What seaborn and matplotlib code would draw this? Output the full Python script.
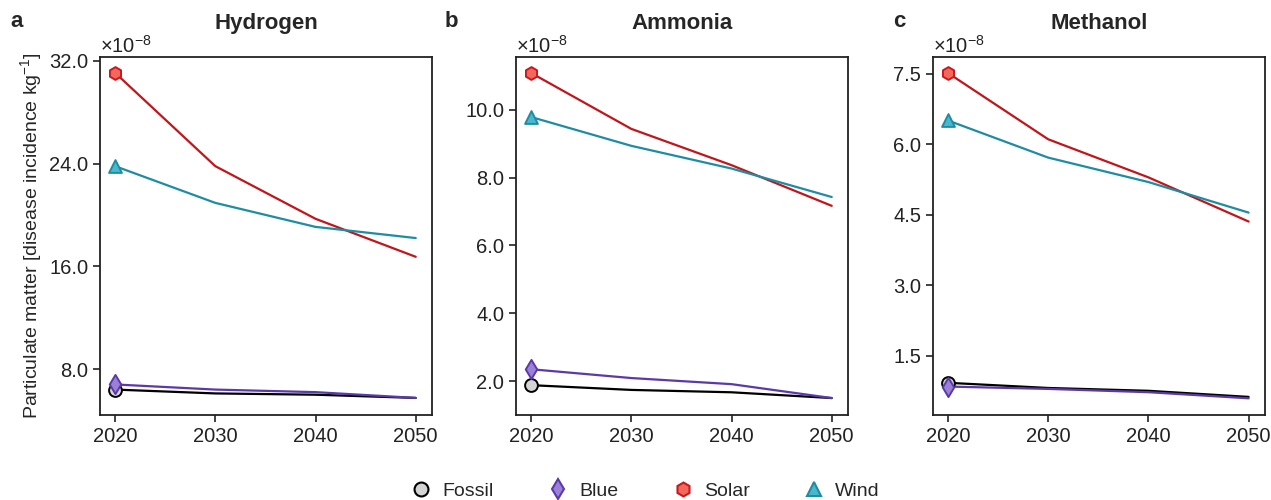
import numpy as np
import pandas as pd
import seaborn as sns
import matplotlib.pyplot as plt
from matplotlib.ticker import ScalarFormatter
from matplotlib.lines import Line2D

# values in units of 1e-8 disease incidence per kg
years = [2020, 2030, 2040, 2050]
fuels = ['Hydrogen', 'Ammonia', 'Methanol']
panel_letters = ['a', 'b', 'c']
routes = ['Fossil', 'Blue', 'Solar', 'Wind']

hydrogen_fossil = [6.4, 6.1, 6.0, 5.75]
hydrogen_blue = [6.8, 6.4, 6.2, 5.75]
hydrogen_solar = [31.07, 23.8, 19.7, 16.74]
hydrogen_wind = [23.8, 20.94, 19.07, 18.2]

ammonia_fossil = [1.88, 1.74, 1.67, 1.5]
ammonia_blue = [2.35, 2.09, 1.91, 1.5]
ammonia_solar = [11.09, 9.44, 8.37, 7.17]
ammonia_wind = [9.79, 8.94, 8.27, 7.43]

methanol_fossil = [0.93, 0.82, 0.76, 0.63]
methanol_blue = [0.85, 0.80, 0.73, 0.60]
methanol_solar = [7.52, 6.11, 5.30, 4.36]
methanol_wind = [6.51, 5.72, 5.20, 4.55]

yticks = {'Hydrogen': [8, 16, 24, 32],
          'Ammonia': [2, 4, 6, 8, 10],
          'Methanol': [1.5, 3.0, 4.5, 6.0, 7.5]}
ylims = {'Hydrogen': (4.42, 32.3),
         'Ammonia': (1.0, 11.56),
         'Methanol': (0.245, 7.86)}

data = {
    'Hydrogen': [hydrogen_fossil, hydrogen_blue, hydrogen_solar, hydrogen_wind],
    'Ammonia': [ammonia_fossil, ammonia_blue, ammonia_solar, ammonia_wind],
    'Methanol': [methanol_fossil, methanol_blue, methanol_solar, methanol_wind],
}

rows = []
for fuel in fuels:
    for route, vals in zip(routes, data[fuel]):
        for yr, v in zip(years, vals):
            rows.append({'fuel': fuel, 'route': route, 'year': yr, 'value': v * 1e-8})
df = pd.DataFrame(rows)

line_col = {'Fossil': '#000000', 'Blue': '#5b3aa8', 'Solar': '#c0161b', 'Wind': '#1e8ca3'}
face_col = {'Fossil': '#d4d4d4', 'Blue': '#9b80d8', 'Solar': '#f4675c', 'Wind': '#4ab8cc'}
edge_col = {'Fossil': '#000000', 'Blue': '#5b3aa8', 'Solar': '#c8191e', 'Wind': '#1e8ca3'}
mk = {'Fossil': 'o', 'Blue': 'd', 'Solar': 'h', 'Wind': '^'}


class OneDecimal(ScalarFormatter):
    def _set_format(self):
        self.format = '%1.1f'


sns.set_theme(style='ticks')
plt.rcParams['font.family'] = ['Liberation Sans', 'DejaVu Sans']
plt.rcParams['mathtext.fontset'] = 'custom'
plt.rcParams['mathtext.rm'] = 'Liberation Sans'
plt.rcParams['mathtext.it'] = 'Liberation Sans:italic'

fig = plt.figure(figsize=(12.71, 5.0), dpi=100)
lefts = [0.0787, 0.406, 0.734]
letter_x = [-0.27, -0.215, -0.12]
axes = [fig.add_axes([l, 0.17, 0.261, 0.716]) for l in lefts]

for ax, fuel, letter, lx in zip(axes, fuels, panel_letters, letter_x):
    sub = df[df.fuel == fuel]
    for route in routes:
        s = sub[sub.route == route]
        sns.lineplot(data=s, x='year', y='value', ax=ax, color=line_col[route],
                     linewidth=1.6, zorder=2)
        first = s[s.year == years[0]]
        sns.scatterplot(data=first, x='year', y='value', ax=ax, marker=mk[route],
                        s=85 if route != 'Blue' else 95, color=face_col[route],
                        edgecolor=edge_col[route], linewidth=1.4, zorder=3)
    ax.set_xlim(2018.5, 2051.6)
    ax.set_xticks(years)
    ax.set_ylim(ylims[fuel][0] * 1e-8, ylims[fuel][1] * 1e-8)
    ax.set_yticks([t * 1e-8 for t in yticks[fuel]])
    fmt = OneDecimal(useMathText=True)
    fmt.set_powerlimits((-8, -8))
    ax.yaxis.set_major_formatter(fmt)
    ax.yaxis.get_offset_text().set_fontsize(14.5)
    ax.tick_params(labelsize=14.5, length=5, width=1.2, colors='#222222')
    for sp in ax.spines.values():
        sp.set_linewidth(1.3)
        sp.set_color('#222222')
    ax.set_xlabel('')
    ax.set_ylabel('')
    ax.set_title(fuel, fontsize=16, fontweight='bold', pad=20)
    ax.text(lx, 1.1, letter, transform=ax.transAxes,
            fontsize=16, fontweight='bold', va='center', ha='left')

axes[0].set_ylabel('Particulate matter [disease incidence kg$^{-1}$]', fontsize=14)

handles = [Line2D([], [], linestyle='none', marker=mk[r], markersize=10,
                  markerfacecolor=face_col[r], markeredgecolor=edge_col[r],
                  markeredgewidth=1.5) for r in routes]
fig.legend(handles, routes, loc='lower center', ncol=4, frameon=False,
           fontsize=14, bbox_to_anchor=(0.508, -0.035), columnspacing=2.8,
           handlelength=1.0, handletextpad=0.6)

fig.savefig('out.png', dpi=100)
